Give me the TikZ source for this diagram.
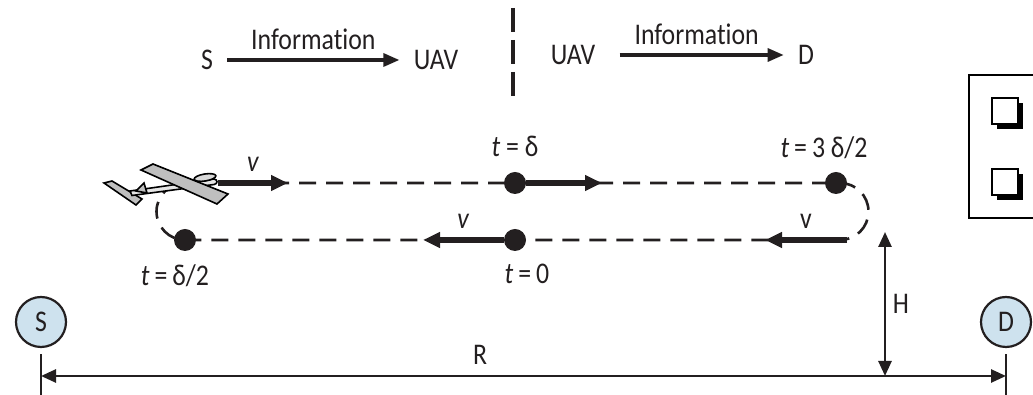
\documentclass[tikz,border=0pt]{standalone}
\usepackage{fontspec}
\setmainfont{Carlito}[FakeStretch=0.86,Ligatures=NoCommon]
\usetikzlibrary{arrows.meta,positioning,shadows}
\definecolor{ink}{RGB}{35,31,32}
\definecolor{stationblue}{RGB}{206,226,238}

\begin{document}
\begin{tikzpicture}[x=0.5pt,y=0.5pt,font=\fontsize{15}{17}\selectfont,color=ink,
  word/.style={inner xsep=7pt},
  info/.style={line width=1.6pt,-{Triangle[length=8pt,width=6.5pt]}},
  vel/.style={line width=2.8pt,-{Triangle[length=8.5pt,width=7.5pt]}},
  track/.style={line width=1.3pt,dash pattern=on 8.5pt off 5pt},
  dim/.style={line width=1.3pt,{Triangle[length=7.5pt,width=6.5pt]}-{Triangle[length=7.5pt,width=6.5pt]}},
  spot/.style={circle,fill=ink,inner sep=0pt,minimum size=11pt},
  station/.style={circle,draw=ink,line width=1.1pt,fill=stationblue,minimum size=25pt,inner sep=0pt},
  chk/.style={draw=black,fill=white,line width=0.9pt,minimum size=13pt,inner sep=0pt,
    general shadow={shadow xshift=2.6pt,shadow yshift=-2.6pt,fill=black}},
  wingfill/.style={draw=black,line width=0.8pt,fill=black!25}]
 \useasboundingbox (0,0) rectangle (1033,395);

 % the two link phases
 \node[word] (srcS) at (207,335) {S};
 \node[word] (uavL) at (436,335) {UAV};
 \draw[info] (srcS) -- (uavL) node[midway,above=1pt] {Information};
 \node[word] (uavR) at (573,340) {UAV};
 \node[word] (dstD) at (806,340) {D};
 \draw[info,shorten <=5pt] (uavR) -- (dstD) node[midway,above=1pt] {Information};
 \draw[line width=1.6pt,dash pattern=on 12pt off 4pt] (513,387) -- (513,297);

 % legend frame
 \draw[line width=1pt,black] (1040,320) -- (969,320) -- (969,177) -- (1040,177);
 \node[chk] (chkA) at (1005,284) {};
 \node[chk] (chkB) at (1005,213) {};

 % racetrack orbit
 \coordinate (nose) at (218,212);
 \draw[track] (nose) -- (840,212) arc[start angle=90,end angle=-90,radius=28.5]
   -- (185,155) arc[start angle=270,end angle=90,radius=28.5];
 \node[spot] (tHalf) at (185,155) {};
 \node[spot] (tOne) at (515,212) {};
 \node[spot] (tZero) at (515,155) {};
 \node[spot] (tThree) at (836,212) {};
 \node[above=4pt of tOne] (lblOne) {\textit{t} = δ};
 \node[above=3pt of tThree,xshift=-6pt] (lblThree) {\textit{t}\,=\,3 δ/2};
 \node[below=3pt of tHalf,xshift=-5pt] (lblHalf) {\textit{t}\,=\,δ/2};
 \node[below=3pt of tZero,xshift=6pt] (lblZero) {\textit{t}\,=\,0};

 % velocity vectors
 \coordinate (vTip1) at (288,212);
 \coordinate (vTip2) at (602,212);
 \coordinate (vTip3) at (423,155);
 \coordinate (vTail4) at (847,155);
 \coordinate (vTip4) at (765,155);
 \draw[vel] (nose) -- (vTip1) node[midway,above=1pt] {\textit{v}};
 \draw[vel] (tOne) -- (vTip2);
 \draw[vel] (tZero) -- (vTip3) node[midway,above=1pt] {\textit{v}};
 \draw[vel] (vTail4) -- (vTip4) node[midway,above=1pt] {v};

 % glider
 \draw[wingfill] (104,212) -- (112,214) -- (142,196) -- (136,190) -- cycle;
 \draw[draw=black,line width=0.8pt,fill=black!10] (130,204) -- (214,216)
   .. controls (218,215.5) and (218,211) .. (214,210.5) -- (132,199.5) -- cycle;
 \draw[wingfill] (136,204) -- (144,212) -- (147,202) -- cycle;
 \draw[draw=black,line width=0.8pt,fill=black!15] (205,217.5) ellipse[x radius=11,y radius=3.5,rotate=9];
 \draw[wingfill] (141,225) -- (153,231) -- (228,201) -- (217,191) -- cycle;

 % ground stations and distances
 \node[station] (srcNode) at (41,73) {S};
 \node[station] (dstNode) at (1006,73) {D};
 \coordinate (srcFoot) at (41,0);
 \coordinate (dstFoot) at (1006,0);
 \coordinate (rLeft) at (41,19);
 \coordinate (rRight) at (1006,19);
 \coordinate (hFoot) at (885,19);
 \coordinate (hTop) at (885,163);
 \draw[line width=1.3pt,shorten <=3pt] (srcNode) -- (srcFoot);
 \draw[line width=1.3pt,shorten <=3pt] (dstNode) -- (dstFoot);
 \draw[dim] (rLeft) -- (rRight) node[pos=0.455,above=2pt] {R};
 \draw[dim] (hFoot) -- (hTop) node[midway,right] {H};
\end{tikzpicture}
\end{document}
